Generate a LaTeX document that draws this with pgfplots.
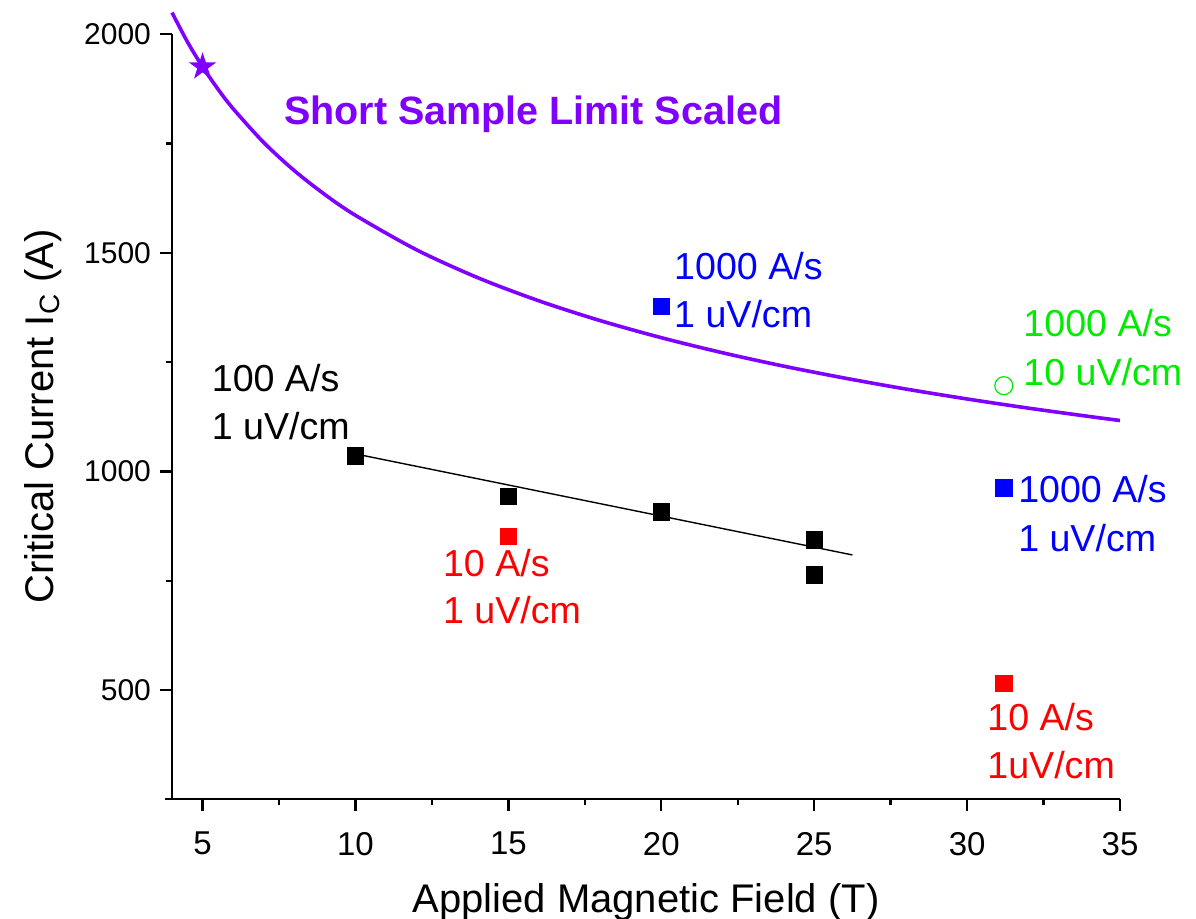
\documentclass[border=0pt]{standalone}
\usepackage{pgfplots}
\pgfplotsset{compat=1.18}
\usepackage{fontspec}
\setmainfont{Liberation Sans}
\usetikzlibrary{calc}
\definecolor{ssl}{RGB}{128,0,255}
\definecolor{cblue}{RGB}{0,0,255}
\definecolor{cred}{RGB}{255,0,0}
\definecolor{cgreen}{RGB}{0,235,0}
\newcommand\annot{\fontsize{18.8}{22}\selectfont}
\newcommand\lbl[4]{\node[anchor=base west, inner sep=0pt, text=#3, font=\annot] at (axis cs:#1,#2) {#4};}
\pgfdeclareplotmark{fstar}{%
  \pgfpathmoveto{\pgfpointpolar{90}{\pgfplotmarksize}}%
  \pgfpathlineto{\pgfpointpolar{126}{0.382\pgfplotmarksize}}%
  \pgfpathlineto{\pgfpointpolar{162}{\pgfplotmarksize}}%
  \pgfpathlineto{\pgfpointpolar{198}{0.382\pgfplotmarksize}}%
  \pgfpathlineto{\pgfpointpolar{234}{\pgfplotmarksize}}%
  \pgfpathlineto{\pgfpointpolar{270}{0.382\pgfplotmarksize}}%
  \pgfpathlineto{\pgfpointpolar{306}{\pgfplotmarksize}}%
  \pgfpathlineto{\pgfpointpolar{342}{0.382\pgfplotmarksize}}%
  \pgfpathlineto{\pgfpointpolar{18}{\pgfplotmarksize}}%
  \pgfpathlineto{\pgfpointpolar{54}{0.382\pgfplotmarksize}}%
  \pgfpathclose
  \pgfusepathqfill}
\begin{document}
\begin{tikzpicture}
\begin{axis}[
  scale only axis,
  width=474pt, height=382.5pt,
  xmin=4, xmax=35, ymin=251, ymax=2000,
  clip=false,
  axis lines=left,
  axis line style={-, line width=1.4pt},
  x axis line style={shorten <=-3.5pt},
  xtick={5,10,15,20,25,30,35},
  ytick={500,1000,1500,2000},
  minor xtick={7.5,12.5,17.5,22.5,27.5,32.5},
  minor ytick={750,1250,1750},
  tick align=outside,
  major tick length=6pt,
  minor tick length=3pt,
  every tick/.style={black, line width=1.2pt},
  yticklabel style={font=\fontsize{15}{18}\selectfont, xshift=-1pt},
  xticklabel style={font=\fontsize{16.5}{20}\selectfont, yshift=-7pt},
  /pgf/number format/assume math mode=true,
  /pgf/number format/1000 sep={},
  xlabel={Applied Magnetic Field (T)},
  ylabel={Critical Current I\textsubscript{C} (A)},
  label style={font=\fontsize{20}{24}\selectfont},
  xlabel style={at={(axis description cs:0.5,-0.148)}, anchor=base},
  ylabel style={at={(axis description cs:-0.1255,0.5)}, anchor=base},
]
\coordinate (SW) at (rel axis cs:0,0);
\coordinate (NE) at (rel axis cs:1,1);
% Short sample limit (scaled)
\addplot[ssl, line width=1.8pt, smooth, no markers] coordinates {
 (4,2049.1) (4.5,1982.6) (5,1925) (5.5,1874.3) (6,1829.2) (7,1751.9) (8,1687.6)
 (9,1632.9) (10,1585.4) (12,1506.5) (14,1442.8) (16,1389.9) (18,1344.8)
 (20,1305.7) (22,1271.3) (24,1240.7) (26,1213.3) (28,1188.3) (30,1165.6)
 (32,1144.7) (34,1125.5) (35,1116.4)
};
\addplot[ssl, only marks, mark=fstar, mark size=7.3pt, mark options={fill=ssl}] coordinates {(5,1925)};
% fit line
\addplot[black, line width=0.7pt, no markers] coordinates {(10,1040) (26.25,809)};
% 100 A/s
\addplot[black, only marks, mark=square*, mark size=4.1pt] coordinates {
 (10,1035) (15,943) (20,907) (25,843) (25,763)
};
% 10 A/s
\addplot[cred, only marks, mark=square*, mark size=4.1pt] coordinates {(15,852) (31.2,515)};
% 1000 A/s 1 uV/cm
\addplot[cblue, only marks, mark=square*, mark size=4.1pt] coordinates {(20,1377) (31.2,962)};
% 1000 A/s 10 uV/cm
\addplot[cgreen, only marks, mark=o, mark size=4.5pt, mark options={line width=0.6pt}] coordinates {(31.2,1196)};

\node[anchor=base west, inner sep=0pt, text=ssl, font=\fontsize{19.75}{24}\selectfont\bfseries] at (axis cs:7.65,1792) {Short Sample Limit Scaled};
\lbl{20.41}{1439.3}{cblue}{1000 A/s}
\lbl{20.41}{1329.6}{cblue}{1 uV/cm}
\lbl{31.83}{1308.1}{cgreen}{1000 A/s}
\lbl{31.83}{1195.4}{cgreen}{10 uV/cm}
\lbl{31.66}{929.6}{cblue}{1000 A/s}
\lbl{31.66}{816.7}{cblue}{1 uV/cm}
\lbl{30.65}{406.9}{cred}{10 A/s}
\lbl{30.65}{298.7}{cred}{1uV/cm}
\lbl{5.29}{1181.7}{black}{100 A/s}
\lbl{5.29}{1072}{black}{1 uV/cm}
\lbl{12.85}{759.5}{cred}{10 A/s}
\lbl{12.85}{651.4}{cred}{1 uV/cm}
\end{axis}
\pgfresetboundingbox
\path[use as bounding box] ($(SW)+(-86pt,-59.5pt)$) rectangle ($(NE)+(38pt,17pt)$);
\end{tikzpicture}
\end{document}
